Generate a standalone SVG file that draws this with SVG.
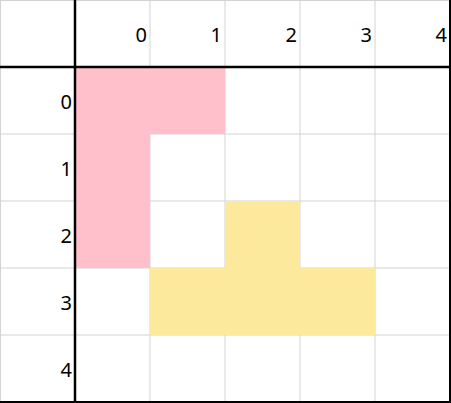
<svg xmlns="http://www.w3.org/2000/svg" width="451" height="403" viewBox="0 0 451 403">
  <style>
    .grid { stroke: #d3d3d3; stroke-width: 1; fill: none; }
    .axis { stroke: #000; stroke-width: 2.5; fill: none; }
    .border { stroke: #000; stroke-width: 2; fill: none; }
    .pink { fill: #ffc0cb; }
    .yellow { fill: #fde99c; }
    .lbl { font-family: "Noto Sans", "Liberation Sans", sans-serif; font-size: 20px; fill: #000; text-anchor: end; }
  </style>
  <rect width="451" height="403" fill="#fff"/>
  <g id="grid">
    <line class="grid" x1="0.5" y1="0" x2="0.5" y2="403"/>
    <line class="grid" x1="150" y1="0" x2="150" y2="403"/>
    <line class="grid" x1="225" y1="0" x2="225" y2="403"/>
    <line class="grid" x1="300" y1="0" x2="300" y2="403"/>
    <line class="grid" x1="375" y1="0" x2="375" y2="403"/>
    <line class="grid" x1="0" y1="0.5" x2="451" y2="0.5"/>
    <line class="grid" x1="0" y1="134" x2="451" y2="134"/>
    <line class="grid" x1="0" y1="201" x2="451" y2="201"/>
    <line class="grid" x1="0" y1="268" x2="451" y2="268"/>
    <line class="grid" x1="0" y1="335" x2="451" y2="335"/>
  </g>
  <g id="shape-pink">
    <path class="pink" d="M75,67 H225 V134 H150 V268 H75 Z"/>
  </g>
  <g id="shape-yellow">
    <path class="yellow" d="M225,201 H300 V268 H375.5 V335 H150 V268 H225 Z"/>
  </g>
  <g id="axes">
    <line class="axis" x1="75" y1="0" x2="75" y2="403"/>
    <line class="axis" x1="0" y1="67" x2="451" y2="67"/>
    <line class="border" x1="450" y1="0" x2="450" y2="403"/>
    <line class="border" x1="0" y1="402" x2="451" y2="402"/>
  </g>
  <g id="col-labels">
    <text class="lbl" x="147" y="42">0</text>
    <text class="lbl" x="222" y="42">1</text>
    <text class="lbl" x="297" y="42">2</text>
    <text class="lbl" x="372" y="42">3</text>
    <text class="lbl" x="447" y="42">4</text>
  </g>
  <g id="row-labels">
    <text class="lbl" x="72" y="109">0</text>
    <text class="lbl" x="72" y="176">1</text>
    <text class="lbl" x="72" y="243">2</text>
    <text class="lbl" x="72" y="310">3</text>
    <text class="lbl" x="72" y="377">4</text>
  </g>
</svg>
